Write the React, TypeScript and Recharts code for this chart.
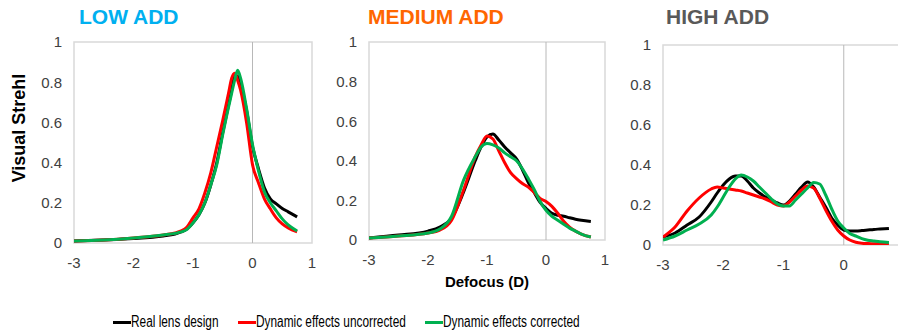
import React from 'react'
import { Line, LineChart, ReferenceArea, ReferenceLine, XAxis, YAxis } from 'recharts'

// defocus samples (D) and visual Strehl values
const lowDefocus = [-3, -2.5, -2, -1.5, -1.3, -1.2, -1.1, -1.0, -0.9, -0.8, -0.7, -0.6, -0.5, -0.4, -0.35, -0.3, -0.25, -0.2, -0.1, 0, 0.1, 0.2, 0.3, 0.4, 0.5, 0.6, 0.75]
const lowReal = [0.01, 0.015, 0.022, 0.035, 0.045, 0.055, 0.07, 0.1, 0.14, 0.2, 0.29, 0.4, 0.55, 0.69, 0.76, 0.835, 0.83, 0.79, 0.66, 0.48, 0.37, 0.275, 0.22, 0.195, 0.172, 0.155, 0.13]
const lowUncorrected = [0.01, 0.015, 0.025, 0.04, 0.05, 0.06, 0.08, 0.125, 0.17, 0.25, 0.35, 0.48, 0.61, 0.75, 0.82, 0.845, 0.81, 0.76, 0.6, 0.39, 0.3, 0.22, 0.17, 0.125, 0.095, 0.075, 0.056]
const lowCorrected = [0.01, 0.015, 0.025, 0.04, 0.048, 0.055, 0.068, 0.1, 0.14, 0.2, 0.29, 0.39, 0.54, 0.68, 0.745, 0.81, 0.86, 0.82, 0.67, 0.49, 0.36, 0.255, 0.2, 0.16, 0.12, 0.09, 0.06]

const medDefocus = [-3, -2.5, -2, -1.8, -1.6, -1.4, -1.2, -1.1, -1.0, -0.9, -0.8, -0.7, -0.6, -0.5, -0.4, -0.3, -0.2, -0.1, 0, 0.1, 0.2, 0.3, 0.4, 0.5, 0.6, 0.76]
const medReal = [0.01, 0.025, 0.045, 0.065, 0.11, 0.24, 0.4, 0.47, 0.52, 0.535, 0.505, 0.47, 0.44, 0.41, 0.355, 0.29, 0.24, 0.19, 0.16, 0.135, 0.125, 0.12, 0.112, 0.105, 0.1, 0.094]
const medUncorrected = [0.01, 0.02, 0.035, 0.05, 0.1, 0.25, 0.42, 0.48, 0.525, 0.51, 0.45, 0.39, 0.34, 0.31, 0.285, 0.267, 0.24, 0.21, 0.195, 0.17, 0.135, 0.095, 0.065, 0.045, 0.03, 0.015]
const medCorrected = [0.01, 0.02, 0.035, 0.055, 0.12, 0.3, 0.42, 0.47, 0.487, 0.48, 0.465, 0.44, 0.42, 0.4, 0.36, 0.31, 0.255, 0.195, 0.15, 0.12, 0.1, 0.08, 0.06, 0.045, 0.03, 0.015]

const highDefocus = [-3, -2.8, -2.6, -2.4, -2.2, -2.1, -2.0, -1.9, -1.8, -1.7, -1.6, -1.5, -1.4, -1.3, -1.2, -1.1, -1.0, -0.9, -0.8, -0.7, -0.6, -0.5, -0.4, -0.3, -0.2, -0.1, 0, 0.1, 0.2, 0.3, 0.4, 0.5, 0.6, 0.75]
const highReal = [0.04, 0.06, 0.1, 0.14, 0.215, 0.26, 0.3, 0.33, 0.345, 0.345, 0.32, 0.285, 0.26, 0.24, 0.225, 0.21, 0.2, 0.22, 0.255, 0.29, 0.315, 0.29, 0.24, 0.19, 0.135, 0.1, 0.075, 0.07, 0.07, 0.072, 0.075, 0.078, 0.08, 0.083]
const highUncorrected = [0.04, 0.09, 0.17, 0.235, 0.28, 0.29, 0.285, 0.28, 0.275, 0.27, 0.26, 0.25, 0.24, 0.23, 0.215, 0.2, 0.195, 0.215, 0.245, 0.275, 0.295, 0.285, 0.235, 0.175, 0.12, 0.075, 0.045, 0.025, 0.014, 0.009, 0.007, 0.006, 0.006, 0.006]
const highCorrected = [0.025, 0.045, 0.075, 0.105, 0.15, 0.19, 0.24, 0.29, 0.33, 0.35, 0.34, 0.32, 0.29, 0.26, 0.23, 0.205, 0.195, 0.195, 0.225, 0.255, 0.285, 0.312, 0.305, 0.25, 0.18, 0.12, 0.085, 0.058, 0.045, 0.032, 0.024, 0.02, 0.016, 0.012]

const xTicks = [-3, -2, -1, 0, 1]
const xTicksCropped = [-3, -2, -1, 0] // the right panel is cut off before 1
const yTicks = [0, 0.2, 0.4, 0.6, 0.8, 1]
const seriesNames = ['Real lens design', 'Dynamic effects uncorrected', 'Dynamic effects corrected']
const seriesColors = ['#000000', '#ff0000', '#00b050']

const FONT = '"Liberation Sans", Arial, sans-serif'
const PAD_L = 45
const PAD_T = 12

type PanelProps = {
	defocus: number[];
	real: number[];
	uncorrected: number[];
	corrected: number[];
	ticks: number[];
	left: number;
	top: number;
	plotW: number;
	plotH: number;
}

const Panel = ({ defocus, real, uncorrected, corrected, ticks, left, top, plotW, plotH }: PanelProps) => {
	const data = defocus.map((d, i) => ({ d, real: real[i], uncorrected: uncorrected[i], corrected: corrected[i] }))
	const tick = { fill: '#404040', fontSize: 15, fontFamily: FONT }
	return (
		<div style={{ position: 'absolute', left: left - PAD_L, top: top - PAD_T }}>
			<LineChart width={plotW + PAD_L + 15} height={plotH + PAD_T + 35} data={data}
				margin={{ top: PAD_T, right: 15, left: 0, bottom: 0 }}>
				<XAxis dataKey='d' type='number' domain={[-3, 1]} ticks={ticks} allowDataOverflow
					axisLine={false} tickLine={false} tickSize={0} tickMargin={14} height={35} tick={tick} />
				<YAxis type='number' domain={[0, 1]} ticks={yTicks} allowDataOverflow
					axisLine={false} tickLine={false} tickSize={0} tickMargin={12} width={PAD_L} tick={tick} />
				<ReferenceArea x1={-3} x2={1} y1={0} y2={1} fill='none' fillOpacity={0} stroke='#d9d9d9' strokeWidth={1.5} />
				<ReferenceLine x={0} stroke='#b8b8b8' strokeWidth={1} />
				<Line type='monotone' dataKey='real' stroke={seriesColors[0]} strokeWidth={3} dot={false} isAnimationActive={false} />
				<Line type='monotone' dataKey='uncorrected' stroke={seriesColors[1]} strokeWidth={3} dot={false} isAnimationActive={false} />
				<Line type='monotone' dataKey='corrected' stroke={seriesColors[2]} strokeWidth={3} dot={false} isAnimationActive={false} />
			</LineChart>
		</div>
	)
}

const titleStyle = (left: number, color: string): React.CSSProperties => ({
	position: 'absolute', left, top: 6, fontFamily: FONT, fontWeight: 'bold', fontSize: 21, lineHeight: '21px', color, whiteSpace: 'nowrap'
})

const legendLefts = [113, 238, 425]

const App = () => {
	return (
		<div style={{ position: 'absolute', left: 0, top: 0, width: 898, height: 336, overflow: 'hidden', background: '#fff' }}>
			<div style={titleStyle(79, '#00b0f0')}>LOW ADD</div>
			<div style={titleStyle(368, '#ff6600')}>MEDIUM ADD</div>
			<div style={titleStyle(666, '#595959')}>HIGH ADD</div>

			<div style={{ position: 'absolute', left: 19 - 70, top: 128 - 10, width: 140, height: 20, lineHeight: '20px', textAlign: 'center',
				transform: 'rotate(-90deg)', fontFamily: FONT, fontWeight: 'bold', fontSize: 18, color: '#000' }}>
				Visual Strehl
			</div>

			<Panel defocus={lowDefocus} real={lowReal} uncorrected={lowUncorrected} corrected={lowCorrected}
				ticks={xTicks} left={74} top={42} plotW={238} plotH={201} />
			<Panel defocus={medDefocus} real={medReal} uncorrected={medUncorrected} corrected={medCorrected}
				ticks={xTicks} left={369} top={42} plotW={236} plotH={198} />
			<Panel defocus={highDefocus} real={highReal} uncorrected={highUncorrected} corrected={highCorrected}
				ticks={xTicksCropped} left={663} top={45} plotW={241} plotH={200} />

			<div style={{ position: 'absolute', left: 369, width: 236, top: 274, textAlign: 'center', fontFamily: FONT,
				fontWeight: 'bold', fontSize: 15, lineHeight: '15px', color: '#000' }}>
				Defocus (D)
			</div>

			{seriesNames.map((name, i) => (
				<div key={name} style={{ position: 'absolute', left: legendLefts[i], top: 312, height: 20, display: 'flex', alignItems: 'center',
					fontFamily: FONT, fontSize: 16, color: '#000', whiteSpace: 'nowrap' }}>
					<span style={{ display: 'inline-block', width: 18, height: 3, background: seriesColors[i] }} />
					<span style={{ display: 'inline-block', transform: 'scaleX(0.74)', transformOrigin: 'left center' }}>{name}</span>
				</div>
			))}
		</div>
	)
}

export default App
